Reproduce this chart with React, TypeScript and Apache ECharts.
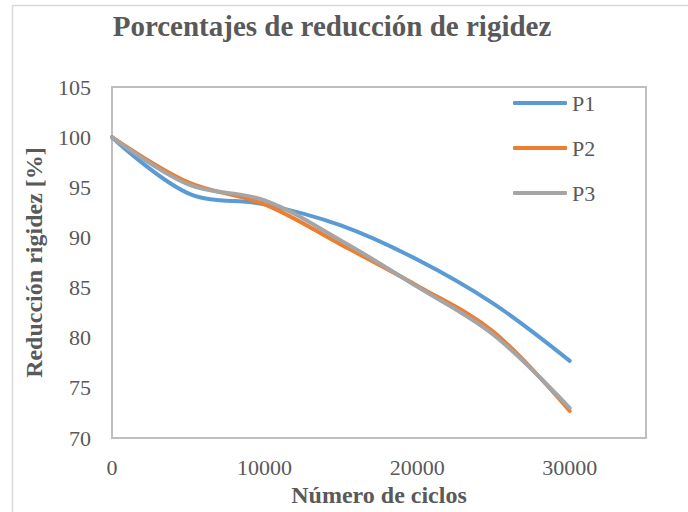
import React, { useEffect, useRef } from "react";
import * as echarts from "echarts";

const titleText = "Porcentajes de reducción de rigidez";
const xAxisTitle = "Número de ciclos";
const yAxisTitle = "Reducción rigidez [%]";
const seriesNames = ["P1", "P2", "P3"];
const cycles = [0, 5000, 10000, 15000, 20000, 25000, 30000];
const p1Values = [100, 94.4, 93.3, 91.2, 87.8, 83.4, 77.7];
const p2Values = [100, 95.5, 93.3, 89.3, 85.2, 80.6, 72.7];
const p3Values = [100, 95.3, 93.7, 89.7, 85.1, 80.3, 73.0];
const seriesColors = ["#5B9BD5", "#ED7D31", "#A5A5A5"];

const FONT = "'Liberation Serif', 'Times New Roman', serif";
const TEXT_COLOR = "#595959";

export default function App() {
  const ref = useRef<HTMLDivElement>(null);

  useEffect(() => {
    if (!ref.current) return;
    const chart = echarts.init(ref.current, undefined, { renderer: "svg" });
    const allValues = [p1Values, p2Values, p3Values];
    const series = seriesNames.map((name, i) => ({
      name,
      type: "line" as const,
      data: cycles.map((c, j) => [c, allValues[i][j]]),
      smooth: 0.35,
      symbol: "none",
      lineStyle: { width: 4, color: seriesColors[i], cap: "round" as const },
      itemStyle: { color: seriesColors[i] },
      z: 2 + i,
    }));

    chart.setOption({
      animation: false,
      backgroundColor: "#ffffff",
      graphic: [
        {
          type: "rect",
          shape: { x: 12.5, y: 5.5, width: 720, height: 600 },
          style: { fill: "none", stroke: "#d9d9d9", lineWidth: 1.5 },
          silent: true,
          z: -10,
        },
        {
          type: "text",
          x: 332,
          y: 11,
          silent: true,
          style: {
            text: titleText,
            align: "center",
            verticalAlign: "top",
            fontFamily: FONT,
            fontSize: 29,
            fontWeight: "bold",
            fill: TEXT_COLOR,
          },
        },
      ],
      legend: {
        orient: "vertical",
        left: 513,
        top: 92,
        padding: 0,
        itemGap: 23,
        itemWidth: 54,
        itemHeight: 4,
        icon: "roundRect",
        data: seriesNames,
        textStyle: { fontFamily: FONT, fontSize: 22, color: TEXT_COLOR },
      },
      grid: {
        left: 112,
        right: 42,
        top: 87,
        bottom: 69,
        show: true,
        borderColor: "#bfbfbf",
        borderWidth: 2,
        backgroundColor: "transparent",
      },
      xAxis: {
        type: "value",
        min: 0,
        max: 35000,
        interval: 10000,
        name: xAxisTitle,
        nameLocation: "middle",
        nameGap: 43,
        nameTextStyle: {
          fontFamily: FONT,
          fontSize: 24,
          fontWeight: "bold",
          color: TEXT_COLOR,
        },
        axisLine: { show: false },
        axisTick: { show: false },
        splitLine: { show: false },
        axisLabel: {
          showMaxLabel: false,
          margin: 18,
          fontFamily: FONT,
          fontSize: 22,
          color: TEXT_COLOR,
          formatter: (v: number) => String(v),
        },
      },
      yAxis: {
        type: "value",
        min: 70,
        max: 105,
        interval: 5,
        name: yAxisTitle,
        nameLocation: "middle",
        nameGap: 66,
        nameTextStyle: {
          fontFamily: FONT,
          fontSize: 24,
          fontWeight: "bold",
          color: TEXT_COLOR,
        },
        axisLine: { show: false },
        axisTick: { show: false },
        splitLine: { show: false },
        axisLabel: {
          margin: 21,
          fontFamily: FONT,
          fontSize: 22,
          color: TEXT_COLOR,
          formatter: (v: number) => String(v),
        },
      },
      series,
    });

    return () => {
      chart.dispose();
    };
  }, []);

  return (
    <div
      ref={ref}
      style={{
        position: "fixed",
        left: 0,
        top: 0,
        width: 688,
        height: 512,
        background: "#ffffff",
      }}
    />
  );
}
